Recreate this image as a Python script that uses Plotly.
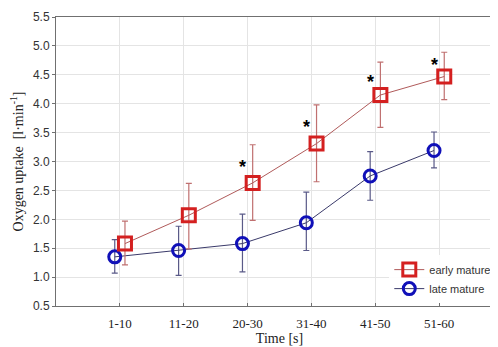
import plotly.graph_objects as go

categories = ["1-10", "11-20", "20-30", "31-40", "41-50", "51-60"]
early_mean = [1.58, 2.07, 2.63, 3.31, 4.15, 4.47]
early_upper = [1.97, 2.62, 3.29, 3.98, 4.72, 4.89]
early_lower = [1.21, 1.49, 1.98, 2.65, 3.59, 4.07]
late_mean = [1.35, 1.46, 1.58, 1.94, 2.75, 3.19]
late_upper = [1.65, 1.88, 2.09, 2.47, 3.17, 3.51]
late_lower = [1.07, 1.03, 1.09, 1.46, 2.33, 2.89]
star_cats = ["20-30", "31-40", "41-50", "51-60"]
star_y = [3.0, 3.69, 4.47, 4.76]
y_ticks = [0.5, 1.0, 1.5, 2.0, 2.5, 3.0, 3.5, 4.0, 4.5, 5.0, 5.5]

idx = list(range(len(categories)))
early_x = [i + 0.08 for i in idx]
late_x = [i - 0.08 for i in idx]

RED = "#d42020"
BLUE = "#1010b8"

fig = go.Figure()
fig.add_trace(go.Scatter(
    x=late_x, y=late_mean, name="late mature", mode="lines+markers",
    line=dict(color="#3a3a6a", width=1),
    marker=dict(symbol="circle-open", size=12, color=BLUE, line=dict(width=3, color=BLUE)),
    error_y=dict(type="data", symmetric=False,
                 array=[u - m for u, m in zip(late_upper, late_mean)],
                 arrayminus=[m - l for m, l in zip(late_mean, late_lower)],
                 color="#5a5a88", thickness=1.2, width=3),
))
fig.add_trace(go.Scatter(
    x=early_x, y=early_mean, name="early mature", mode="lines+markers",
    line=dict(color="#b05a5a", width=1),
    marker=dict(symbol="square-open", size=13, color=RED, line=dict(width=3, color=RED)),
    error_y=dict(type="data", symmetric=False,
                 array=[u - m for u, m in zip(early_upper, early_mean)],
                 arrayminus=[m - l for m, l in zip(early_mean, early_lower)],
                 color="#c07070", thickness=1.2, width=3),
))

for c, yv in zip(star_cats, star_y):
    fig.add_annotation(x=categories.index(c) - 0.08, y=yv, text="<b>*</b>", showarrow=False,
                       font=dict(family="Liberation Sans", size=18, color="black"),
                       yshift=-5)

fig.update_layout(
    width=498, height=347,
    margin=dict(l=48, r=2, t=7, b=49),
    paper_bgcolor="white", plot_bgcolor="white",
    showlegend=True,
    legend=dict(x=0.985, xanchor="right", y=0.01, yanchor="bottom", bgcolor="rgba(255,255,255,0.9)",
                font=dict(family="Arial", size=11, color="#333333"),
                traceorder="reversed", tracegroupgap=0, itemwidth=30,
                orientation="v"),
)
fig.update_xaxes(
    range=[-1, 6], tickvals=idx, ticktext=categories,
    showgrid=True, gridcolor="#e4e4e4", gridwidth=1,
    showline=True, linecolor="#707070", linewidth=1, mirror=True,
    ticks="inside", ticklen=3, tickcolor="#707070",
    tickfont=dict(family="Liberation Serif", size=13, color="#222222"),
    ticklabelstandoff=5,
    title=dict(text="Time [s]", font=dict(family="Liberation Serif", size=14, color="#222222"), standoff=0),
    zeroline=False,
)
fig.update_yaxes(
    range=[0.5, 5.5], tickvals=y_ticks, ticktext=[f"{v:.1f}" for v in y_ticks],
    showgrid=True, gridcolor="#e4e4e4", gridwidth=1,
    showline=True, linecolor="#707070", linewidth=1, mirror=True,
    ticks="outside", ticklen=3, tickcolor="#707070",
    tickfont=dict(family="Liberation Sans", size=12, color="#333333"),
    title=dict(text="Oxygen uptake  [l·min<sup>-1</sup>]", font=dict(family="Liberation Serif", size=14, color="#222222"), standoff=10),
    zeroline=False,
)

fig.write_html("out.html")
